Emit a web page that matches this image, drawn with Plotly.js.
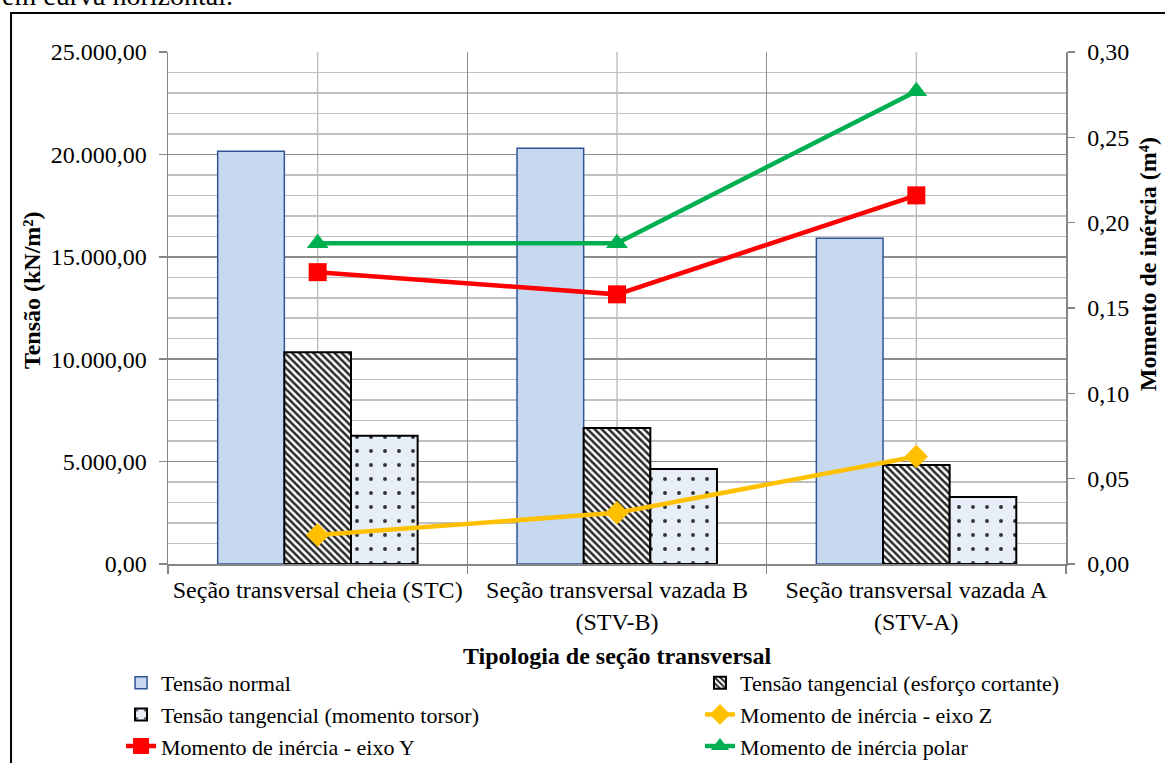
<!DOCTYPE html>
<html><head><meta charset="utf-8">
<script src="https://cdn.plot.ly/plotly-3.0.1.min.js"></script>
<style>html,body{margin:0;padding:0;background:#fff;} #chart{width:1165px;height:763px;}</style>
</head><body><div id="chart"></div>
<script>
// ---- data ----
const categories = ['Seção transversal cheia (STC)', 'Seção transversal vazada B<br>(STV-B)', 'Seção transversal vazada A<br>(STV-A)'];
const tensaoNormal = [20150, 20300, 15900];
const tensaoCortante = [10340, 6640, 4830];
const tensaoTorsor = [6260, 4640, 3270];
const inerciaZ = [0.017, 0.030, 0.063];
const inerciaY = [0.171, 0.158, 0.216];
const inerciaPolar = [0.188, 0.188, 0.277];
const seriesNames = ['Tensão normal', 'Tensão tangencial (esforço cortante)', 'Tensão tangencial (momento torsor)',
  'Momento de inércia - eixo Z', 'Momento de inércia - eixo Y', 'Momento de inércia polar'];
const leftTitle = 'Tensão (kN/m²)';
const rightTitle = 'Momento de inércia (m⁴)';
const xTitle = 'Tipologia de seção transversal';
const captionText = 'em curva horizontal.';

const FONT = 'Liberation Serif, Times New Roman, serif';
const AX = '#868686';

const traces = [
  {type:'bar', name:seriesNames[0], x:categories, y:tensaoNormal, legend:'legend', legendrank:1,
   marker:{color:'#c6d9f1', line:{color:'#2f5597', width:1.5}}},
  {type:'bar', name:seriesNames[1], x:categories, y:tensaoCortante, legend:'legend2', legendrank:1,
   marker:{color:'#ffffff', line:{color:'#000000', width:2},
     pattern:{shape:'\\', fgcolor:'#2a2a2a', bgcolor:'#ffffff', size:5, solidity:0.5}}},
  {type:'bar', name:seriesNames[2], x:categories, y:tensaoTorsor, legend:'legend', legendrank:2,
   marker:{color:'#e7eef8', line:{color:'#000000', width:2},
     pattern:{shape:'.', fgcolor:'#333333', bgcolor:'#e7eef8', size:14, solidity:0.06}}},
  {type:'scatter', mode:'lines+markers', name:seriesNames[3], x:categories, y:inerciaZ, yaxis:'y2', legend:'legend2', legendrank:2,
   line:{color:'#ffc000', width:4.5}, marker:{symbol:'diamond', size:18, color:'#ffc000'}},
  {type:'scatter', mode:'lines+markers', name:seriesNames[4], x:categories, y:inerciaY, yaxis:'y2', legend:'legend', legendrank:3,
   line:{color:'#ff0000', width:4.5}, marker:{symbol:'square', size:18, color:'#ff0000'}},
  {type:'scatter', mode:'lines+markers', name:seriesNames[5], x:categories, y:inerciaPolar, yaxis:'y2', legend:'legend2', legendrank:3,
   line:{color:'#00b050', width:4.5}, marker:{symbol:'triangle-up', size:19, color:'#00b050'}}
];

const centerLines = categories.map(c => ({type:'line', xref:'x', yref:'paper', x0:c, x1:c, y0:0, y1:1,
  line:{color:'#c0c0c0', width:1.5}, layer:'below'}));

const legendCommon = {orientation:'v', xanchor:'left', yanchor:'top', y:-0.1914, traceorder:'normal',
  font:{family:FONT, size:22}, bgcolor:'rgba(0,0,0,0)', borderwidth:0};

const layout = {
  width:1165, height:763,
  margin:{l:168, r:99, t:52, b:199, autoexpand:false},
  paper_bgcolor:'#ffffff', plot_bgcolor:'#ffffff',
  font:{family:FONT, size:24, color:'#000000'},
  separators:',.',
  barmode:'group', bargap:0.332, bargroupgap:0,
  showlegend:true,
  xaxis:{type:'category', tickangle:0, automargin:false, tickson:'boundaries', ticks:'outside', ticklen:8, tickcolor:AX, tickwidth:1.5,
    showline:true, linecolor:AX, linewidth:1.5, showgrid:true, gridcolor:'#8c8c8c', gridwidth:1.5,
    tickfont:{family:FONT, size:24}, ticklabelstandoff:4,
    title:{text:xTitle, font:{family:FONT, size:24, weight:'bold'}, standoff:13}},
  yaxis:{range:[0,25000], dtick:5000, tickformat:',.2f', automargin:false, ticks:'outside', ticklen:8, tickcolor:AX, tickwidth:1.5,
    showline:true, linecolor:AX, linewidth:1.5, zeroline:false,
    showgrid:true, gridcolor:'#8c8c8c', gridwidth:1.5,
    minor:{dtick:1000, showgrid:true, gridcolor:'#c0c0c0', gridwidth:1.5},
    tickfont:{family:FONT, size:24}, ticklabelstandoff:7},
  yaxis2:{overlaying:'y', side:'right', range:[0,0.30], dtick:0.05, tickformat:'.2f', automargin:false,
    ticks:'outside', ticklen:7, tickcolor:AX, tickwidth:1.5, showline:true, linecolor:AX, linewidth:1.5,
    showgrid:false, zeroline:false, tickfont:{family:FONT, size:24}, ticklabelstandoff:8},
  legend:Object.assign({}, legendCommon, {x:-0.0523}),
  legend2:Object.assign({}, legendCommon, {x:0.5924}),
  shapes:[...centerLines,
    {type:'rect', xref:'paper', yref:'paper', x0:-0.1748, x1:1.3, y0:-0.6, y1:1.0762,
     line:{color:'#000000', width:2}, fillcolor:'rgba(0,0,0,0)', layer:'above'}],
  annotations:[
    {text:leftTitle, xref:'paper', yref:'paper', x:-0.1514, y:0.535, textangle:-90, showarrow:false,
     xanchor:'center', yanchor:'middle', font:{family:FONT, size:24, weight:'bold'}},
    {text:rightTitle, xref:'paper', yref:'paper', x:1.0915, y:0.586, textangle:-90, showarrow:false,
     xanchor:'center', yanchor:'middle', font:{family:FONT, size:24, weight:'bold'}},
    {text:captionText, xref:'paper', yref:'paper', x:-0.187, y:1.1094, xanchor:'left', yanchor:'middle',
     showarrow:false, font:{family:FONT, size:28}}
  ]
};

Plotly.newPlot('chart', traces, layout, {displayModeBar:false, staticPlot:true});
</script>
</body></html>
